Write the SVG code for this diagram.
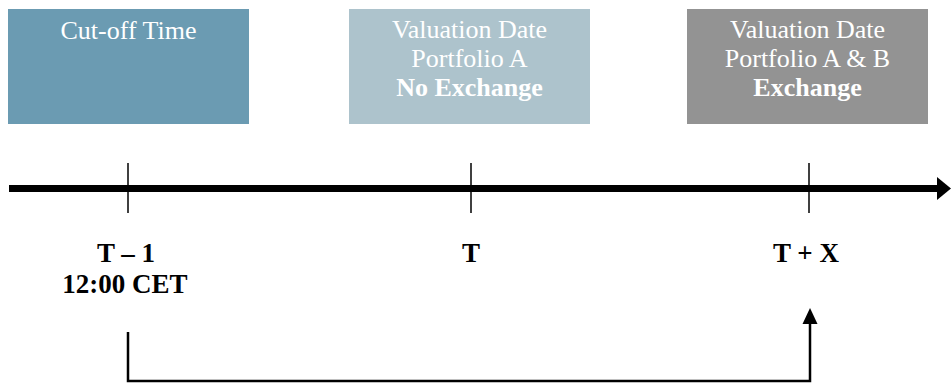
<svg xmlns="http://www.w3.org/2000/svg" width="951" height="383" viewBox="0 0 951 383">
<style>
.lbl{font-family:"Liberation Serif","Times New Roman",serif;fill:#ffffff;font-size:26px;text-anchor:middle}
.b{font-weight:bold}
.tl{font-family:"Liberation Serif","Times New Roman",serif;fill:#000;font-size:27px;font-weight:bold;text-anchor:middle}
.tick{stroke:#000;stroke-width:1.5}
</style>
<rect width="951" height="383" fill="#fff"/>
<g id="cutoff">
<rect x="8" y="9" width="241" height="115" fill="#6b9bb2"/>
<text class="lbl" x="128.5" y="39">Cut-off Time</text>
</g>
<g id="valuation-a">
<rect x="349" y="9" width="241" height="115" fill="#adc3cc"/>
<text class="lbl" x="469.5" y="38">Valuation Date</text>
<text class="lbl" x="469.5" y="67">Portfolio A</text>
<text class="lbl b" x="469.5" y="96">No Exchange</text>
</g>
<g id="valuation-ab">
<rect x="687" y="9" width="241" height="115" fill="#939393"/>
<text class="lbl" x="807.5" y="38">Valuation Date</text>
<text class="lbl" x="807.5" y="67">Portfolio A &amp; B</text>
<text class="lbl b" x="807.5" y="96">Exchange</text>
</g>
<g id="timeline">
<line x1="9" y1="188.5" x2="938" y2="188.5" stroke="#000" stroke-width="7"/>
<path d="M937,177 L951,188.5 L937,200 Z" fill="#000"/>
<line class="tick" x1="128" y1="163" x2="128" y2="213"/>
<line class="tick" x1="471" y1="163" x2="471" y2="213"/>
<line class="tick" x1="809" y1="163" x2="809" y2="213"/>
</g>
<g id="label-t-1">
<text class="tl" x="126" y="262">T – 1</text>
<text class="tl" x="125" y="293">12:00 CET</text>
</g>
<g id="label-t">
<text class="tl" x="471" y="262">T</text>
</g>
<g id="label-tx">
<text class="tl" x="806" y="262">T + X</text>
</g>
<g id="connectors">
<path d="M128,332 L128,381 L810,381 L810,322" fill="none" stroke="#000" stroke-width="2.5"/>
<path d="M802.5,324 L810,308 L817.5,324 Z" fill="#000"/>
</g>
</svg>
